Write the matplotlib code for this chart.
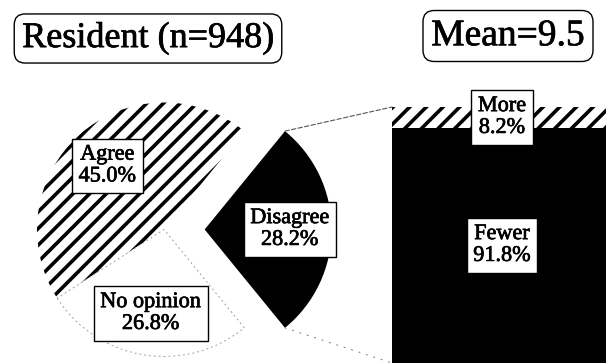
import numpy as np
import matplotlib
matplotlib.use("Agg")
import matplotlib.pyplot as plt
import matplotlib.patheffects as pe
from matplotlib.patches import ConnectionPatch

# ---- data ----
pie_labels = ["Disagree", "Agree", "No opinion"]
pie_values = [28.2, 45.0, 26.8]
bar_labels = ["Fewer", "More"]
bar_values = [91.8, 8.2]
title_left = "Resident (n=948)"
title_right = "Mean=9.5"

plt.rcParams['font.family'] = ['Liberation Serif', 'DejaVu Serif']
plt.rcParams['hatch.linewidth'] = 2.6

W, H = 606, 364
fig = plt.figure(figsize=(W / 100, H / 100), dpi=100)
ink = [pe.withStroke(linewidth=0.5, foreground="black")]

# ---- pie ----
R = 127.0           # pixel radius
cx, cy = 164.0, 229.5  # pixel centre (from top)
ax_pie = fig.add_axes([0, 0, 1, 1])
explode = [0.32, 0, 0]
wedges, _ = ax_pie.pie(pie_values, explode=explode,
                       startangle=-pie_values[0] / 100 * 360 / 2,
                       counterclock=True, radius=1.0,
                       colors=["black", "white", "white"],
                       wedgeprops=dict(linewidth=0))
wedges[0].set_edgecolor("black")
wedges[1].set_edgecolor("black")
wedges[1].set_hatch("//")
wedges[1].set_linewidth(0)
wedges[2].set_edgecolor("#a0a0a0")
wedges[2].set_linewidth(0.7)
wedges[2].set_linestyle((0, (2, 3)))
ax_pie.set_xlim(-cx / R, (W - cx) / R)
ax_pie.set_ylim(-(H - cy) / R, cy / R)
ax_pie.set_aspect('auto')
ax_pie.axis('off')

box = dict(boxstyle="square,pad=0.3", facecolor="white", edgecolor="black", linewidth=1.0)
for w, lab, val in zip(wedges, pie_labels, pie_values):
    ang = np.deg2rad((w.theta1 + w.theta2) / 2)
    x0, y0 = w.center
    ax_pie.text(x0 + 0.67 * np.cos(ang), y0 + 0.67 * np.sin(ang),
                f"{lab}\n{val:.1f}%", ha="center", va="center",
                fontsize=16, bbox=box, zorder=5, path_effects=ink)

# ---- bar ----
ax_bar = fig.add_axes([392 / W, 1 / H, 220 / W, 256 / H])
b1 = ax_bar.bar([0], [bar_values[0]], width=1.0, color="black", linewidth=0)
b2 = ax_bar.bar([0], [bar_values[1]], bottom=[bar_values[0]], width=1.0,
                color="white", edgecolor="black", hatch="//", linewidth=0)
ax_bar.set_xlim(-0.5, 0.5)
ax_bar.set_ylim(0, sum(bar_values))
ax_bar.axis('off')
bottom = 0
for lab, val in zip(bar_labels, bar_values):
    ax_bar.text(0, bottom + val / 2, f"{lab}\n{val:.1f}%", ha="center", va="center",
                fontsize=16, bbox=box, zorder=5, path_effects=ink)
    bottom += val

# ---- connectors ----
wd = wedges[0]
x0, y0 = wd.center
for th, yb, ls, col in [(wd.theta2, sum(bar_values), (0, (4, 2)), "#555555"),
                        (wd.theta1, 0, (0, (1, 6)), "#888888")]:
    t = np.deg2rad(th)
    con = ConnectionPatch(xyA=(x0 + np.cos(t), y0 + np.sin(t)), coordsA=ax_pie.transData,
                          xyB=(-0.5, yb), coordsB=ax_bar.transData,
                          color=col, linewidth=0.8, linestyle=ls)
    fig.add_artist(con)

# ---- titles ----
tbox = dict(boxstyle="round,pad=0.22,rounding_size=0.3", facecolor="white",
            edgecolor="black", linewidth=1.0)
fig.text(148 / W, 1 - 38.5 / H, title_left, ha="center", va="center",
         fontsize=26, bbox=tbox, path_effects=ink)
fig.text(508 / W, 1 - 36 / H, title_right, ha="center", va="center",
         fontsize=27, bbox=tbox, path_effects=ink)

fig.savefig("out.png", dpi=100)
